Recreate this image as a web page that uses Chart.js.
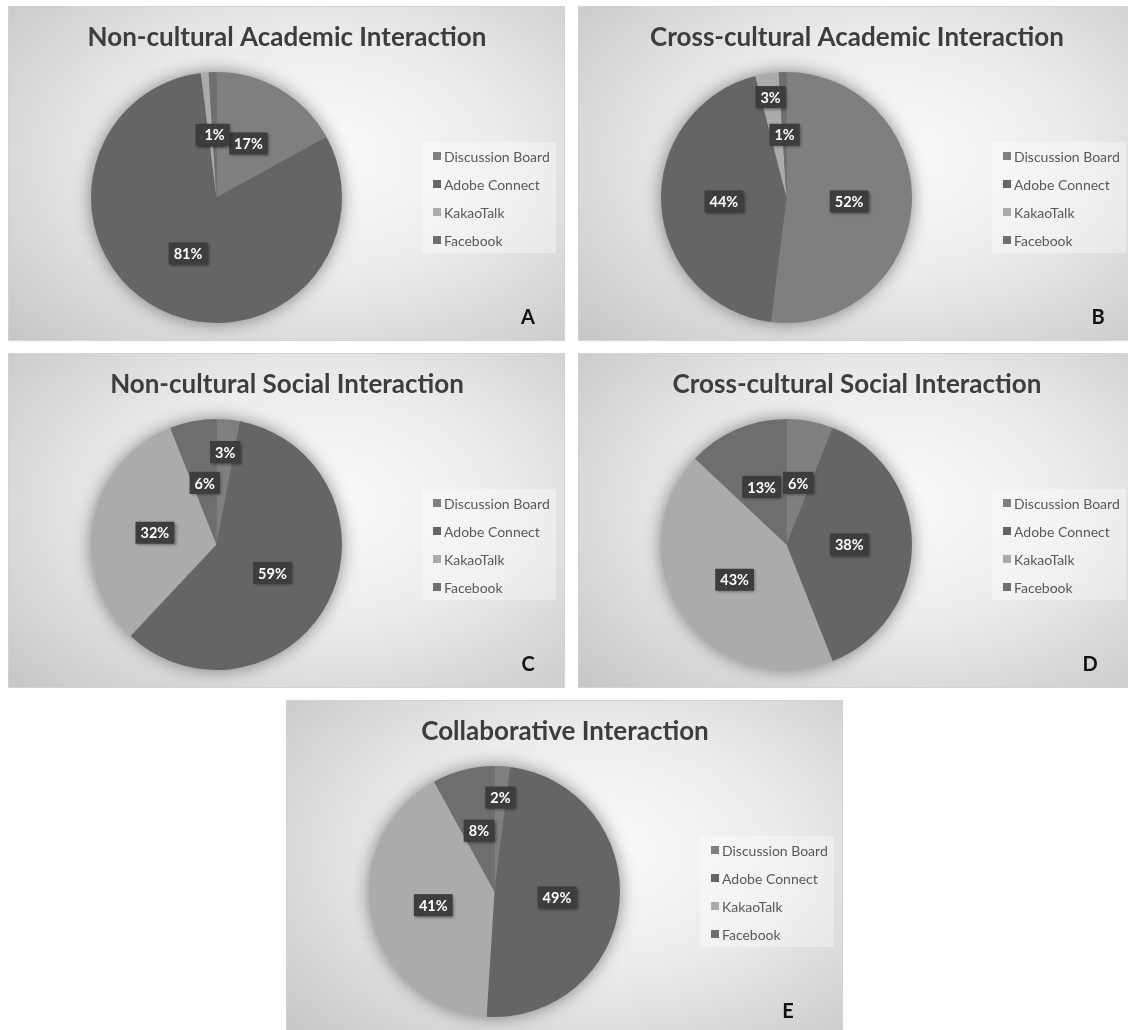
<!DOCTYPE html>
<html>
<head>
<meta charset="utf-8">
<script src="https://cdn.jsdelivr.net/npm/chart.js@4.4.1/dist/chart.umd.min.js"></script>
<style>
  html, body { margin: 0; padding: 0; background: #ffffff; width: 1128px; height: 1030px; overflow: hidden; }
  .panel {
    position: absolute; width: 557px; height: 335px; box-sizing: border-box;
    border: 1px solid #d2d2d2; overflow: hidden;
    background: radial-gradient(ellipse 75% 80% at 55% 45%, #fbfbfb 0%, #ececec 45%, #d4d4d4 80%, #c6c6c6 100%);
  }
  .panel canvas { position: absolute; left: -1px; top: -1px; }
</style>
</head>
<body>
<div class="panel" style="left:8px;top:6px"><canvas id="chartA" width="557" height="335"></canvas></div>
<div class="panel" style="left:578px;top:6px"><canvas id="chartB" width="557" height="335"></canvas></div>
<div class="panel" style="left:8px;top:353px"><canvas id="chartC" width="557" height="335"></canvas></div>
<div class="panel" style="left:578px;top:353px"><canvas id="chartD" width="557" height="335"></canvas></div>
<div class="panel" style="left:286px;top:700px"><canvas id="chartE" width="557" height="335"></canvas></div>
<script>
// Platforms used for each kind of interaction (share of messages, %)
const categories = ['Discussion Board', 'Adobe Connect', 'KakaoTalk', 'Facebook'];

const nonCulturalAcademic   = [17, 81, 1, 1];
const crossCulturalAcademic = [52, 44, 3, 1];
const nonCulturalSocial     = [3, 59, 32, 6];
const crossCulturalSocial   = [6, 38, 43, 13];
const collaborative         = [2, 49, 41, 8];

const chartTitles = [
  'Non-cultural Academic Interaction',
  'Cross-cultural Academic Interaction',
  'Non-cultural Social Interaction',
  'Cross-cultural Social Interaction',
  'Collaborative Interaction'
];
const panelLetters = ['A', 'B', 'C', 'D', 'E'];

const sliceColors = ['#7f7f7f', '#656565', '#ababab', '#6e6e6e'];
const FONT = 'Lato, "Open Sans", sans-serif';

// Draws the pie halo, value boxes, title, legend and panel letter
const panelDecor = {
  id: 'panelDecor',
  beforeDatasetsDraw(chart) {
    const arcs = chart.getDatasetMeta(0).data;
    if (!arcs.length) return;
    const { x, y, outerRadius } = arcs[0];
    const ctx = chart.ctx;
    ctx.save();
    ctx.shadowColor = 'rgba(0,0,0,0.5)';
    ctx.shadowBlur = 18;
    ctx.beginPath();
    ctx.arc(x, y, outerRadius - 1, 0, Math.PI * 2);
    ctx.fillStyle = '#707070';
    ctx.fill();
    ctx.restore();
  },
  afterDatasetsDraw(chart, args, opts) {
    const ctx = chart.ctx;
    const meta = chart.getDatasetMeta(0);
    const values = chart.data.datasets[0].data;
    const radial = opts.labelRadius || [];
    ctx.save();
    ctx.font = 'bold 14.5px ' + FONT;
    ctx.textAlign = 'center';
    ctx.textBaseline = 'middle';
    meta.data.forEach((arc, i) => {
      const mid = (arc.startAngle + arc.endAngle) / 2;
      const f = radial[i] != null ? radial[i] : 0.5;
      const lx = arc.x + Math.cos(mid) * arc.outerRadius * f;
      const ly = arc.y + Math.sin(mid) * arc.outerRadius * f;
      const text = values[i] + '%';
      const w = ctx.measureText(text).width + 10;
      const h = 22;
      ctx.save();
      ctx.shadowColor = 'rgba(0,0,0,0.45)';
      ctx.shadowBlur = 3;
      ctx.shadowOffsetX = 1.5;
      ctx.shadowOffsetY = 1.5;
      ctx.fillStyle = '#3d3d3d';
      ctx.fillRect(lx - w / 2, ly - h / 2, w, h);
      ctx.restore();
      ctx.fillStyle = '#ffffff';
      ctx.fillText(text, lx, ly + 1);
    });
    ctx.restore();
  },
  afterDraw(chart, args, opts) {
    const ctx = chart.ctx;
    ctx.save();
    // title
    ctx.fillStyle = '#3d3d3d';
    ctx.font = 'bold 26px ' + FONT;
    ctx.textAlign = 'center';
    ctx.textBaseline = 'alphabetic';
    ctx.fillText(opts.title, 279, 40);
    // legend
    ctx.fillStyle = 'rgba(255,255,255,0.35)';
    ctx.fillRect(414, 136, 134, 111);
    ctx.font = '14px ' + FONT;
    ctx.textAlign = 'left';
    ctx.textBaseline = 'middle';
    chart.data.labels.forEach((lab, i) => {
      const yy = 150 + i * 28;
      ctx.fillStyle = chart.data.datasets[0].backgroundColor[i];
      ctx.fillRect(425, yy - 4, 8, 8);
      ctx.fillStyle = '#595959';
      ctx.fillText(lab, 436, yy + 1);
    });
    // panel letter
    ctx.fillStyle = '#111111';
    ctx.font = 'bold 20px ' + FONT;
    ctx.textAlign = 'center';
    ctx.fillText(opts.letter, opts.letterX, 312);
    ctx.restore();
  }
};

function makePie(id, values, idx, labelRadius, letterX) {
  return new Chart(document.getElementById(id), {
    type: 'pie',
    data: {
      labels: categories,
      datasets: [{
        data: values,
        backgroundColor: sliceColors,
        borderWidth: 0
      }]
    },
    options: {
      responsive: false,
      animation: false,
      layout: { padding: { left: 83, top: 66, right: 223, bottom: 18 } },
      plugins: {
        legend: { display: false },
        tooltip: { enabled: false },
        title: { display: false },
        panelDecor: {
          title: chartTitles[idx],
          letter: panelLetters[idx],
          letterX: letterX,
          labelRadius: labelRadius
        }
      }
    },
    plugins: [panelDecor]
  });
}

makePie('chartA', nonCulturalAcademic, 0, [], 520);
makePie('chartB', crossCulturalAcademic, 1, [null, null, 0.81, null], 520);
makePie('chartC', nonCulturalSocial, 2, [0.74, null, null, null], 520);
makePie('chartD', crossCulturalSocial, 3, [], 512);
makePie('chartE', collaborative, 4, [0.75, null, null, null], 502);
</script>
</body>
</html>
